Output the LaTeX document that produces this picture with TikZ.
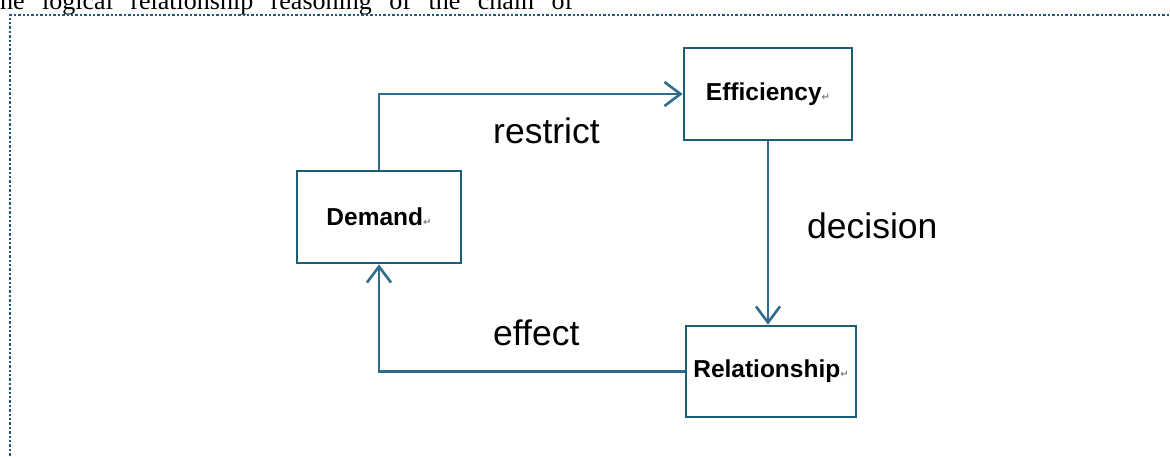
\documentclass[tikz,border=0pt]{standalone}
\usepackage{fontspec}
\setmainfont{Liberation Sans}
\newfontfamily\seriffont{Liberation Serif}
\newfontfamily\symfont{DejaVu Sans}
\usetikzlibrary{arrows.meta}
\definecolor{boxline}{HTML}{1F5C7A}
\definecolor{arrowline}{HTML}{2D6C8C}
\definecolor{frameline}{HTML}{1F5A78}
\newcommand{\pmark}{{\symfont\fontsize{10pt}{10pt}\selectfont\color{gray}↵}}
\tikzset{
  boxnode/.style={draw=boxline, line width=2.8pt, fill=white, inner sep=0pt,
    font=\fontsize{24.5pt}{27pt}\selectfont\bfseries},
  conn/.style={draw=arrowline, line width=2.6pt,
    -{Straight Barb[length=16pt,width=24pt,line width=2.6pt]}},
  lbl/.style={anchor=base west, font=\fontsize{35.5pt}{40pt}\selectfont, text=black, inner sep=0pt},
}
\begin{document}
\begin{tikzpicture}[x=1pt,y=-1pt]
\useasboundingbox (0,0) rectangle (1170,456);
% top cut text
\node[anchor=base west, inner sep=0pt, font=\seriffont\fontsize{26pt}{30pt}\selectfont] (toptext) at (0,9)
  {\makebox[573pt][s]{he logical relationship reasoning of the chain of}};
% dotted frame
\draw[frameline, line width=2.4pt, dash pattern=on 2.4pt off 2pt] (10,460) -- (10,15) -- (1175,15);
% boxes
\node[boxnode, minimum width=164pt, minimum height=92pt] (demand) at (379,217) {Demand\pmark};
\node[boxnode, minimum width=168pt, minimum height=92pt] (eff) at (768,94) {Efficiency\pmark};
\node[boxnode, minimum width=170pt, minimum height=91pt] (rel) at (771,371.5) {Relationship\pmark};
% connectors
\draw[conn] (demand.north) |- (eff.west);
\draw[conn] (eff.south) -- (eff.south |- rel.north);
\draw[conn] (rel.west) -| (demand.south);
% labels
\node[lbl] (lrestrict) at (493,143) {restrict};
\node[lbl] (ldecision) at (807,238) {decision};
\node[lbl] (leffect) at (493,345) {effect};
\end{tikzpicture}
\end{document}
